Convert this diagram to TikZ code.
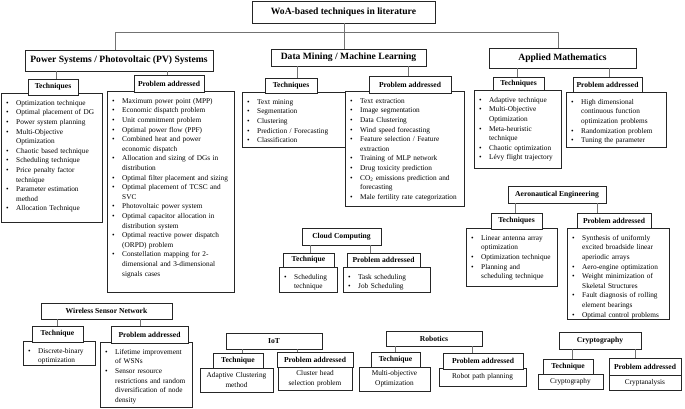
\documentclass[tikz,border=0pt]{standalone}
\usepackage{fontspec}
\setmainfont{Liberation Serif}
\usetikzlibrary{calc}
\newcommand\nohy{\hyphenpenalty=10000\relax\exhyphenpenalty=10000\relax}
\newcommand\itm{\par\noindent\hangindent=10pt\hangafter=1\makebox[10pt][l]{\textbullet}}
\newcommand\myhdr[7]{\node[#1, minimum width={(#5-#3)*1pt}, minimum height={(#6-#4)*1pt}, anchor=north west] (#2) at (#3,#4) {#7};}
\newcommand\mylist[6]{\node[lstbox, minimum width={(#4-#2)*1pt}, minimum height={(#5-#3)*1pt}, anchor=north west] (#1) at (#2,#3) {};
  \node[lsttext, text width={(#4-#2-10)*1pt}, anchor=north west] (#1txt) at (#2,#3+2.5) {\nohy#6\par};}
\newcommand\mycent[6]{\node[lstbox, minimum width={(#4-#2)*1pt}, minimum height={(#5-#3)*1pt}, anchor=north west] (#1) at (#2,#3) {};
  \node[lsttext, text width={(#4-#2-6)*1pt}, align=center, inner xsep=3pt] (#1txt) at (#1.center) {\nohy#6\par};}
\tikzset{
  boxbase/.style={draw=black!85, line width=0.7pt, fill=white, inner sep=0pt, outer sep=0pt},
  cat/.style={boxbase, font=\bfseries\fontsize{9.6}{11}\selectfont},
  scat/.style={boxbase, font=\bfseries\fontsize{7.6}{9}\selectfont},
  hd/.style={boxbase, font=\bfseries\fontsize{7.6}{9}\selectfont},
  lstbox/.style={boxbase},
  lsttext/.style={inner xsep=5pt, inner ysep=0pt, align=left, font=\fontsize{7.3}{9.6}\selectfont},
  conn/.style={draw=black!55, line width=0.9pt},
}
\begin{document}
\begin{tikzpicture}[x=1pt,y=-1pt]
\useasboundingbox (0,0) rectangle (685,409);
% ---------- lists ----------
\mylist{pvtl}{1}{93}{102}{222}{\itm Optimization technique\itm Optimal placement of DG\itm Power system planning\itm Multi-Objective Optimization\itm Chaotic based technique\itm Scheduling technique\itm Price penalty factor technique\itm Parameter estimation method\itm Allocation Technique}
\mylist{pvpl}{107}{91}{234}{292}{\itm Maximum power point (MPP)\itm Economic dispatch problem\itm Unit commitment problem\itm Optimal power flow (PPF)\itm Combined heat and power economic dispatch\itm Allocation and sizing of DGs in distribution\itm Optimal filter placement and sizing\itm Optimal placement of TCSC and SVC\itm Photovoltaic power system\itm Optimal capacitor allocation in distribution system\itm Optimal reactive power dispatch (ORPD) problem\itm Constellation mapping for 2-\linebreak dimensional and 3-dimensional signals cases}
\mylist{dmtl}{242}{92}{346}{147}{\itm Text mining\itm Segmentation\itm Clustering\itm Prediction / Forecasting\itm Classification}
\mylist{dmpl}{345}{91}{464}{206}{\itm Text extraction\itm Image segmentation\itm Data Clustering\itm Wind speed forecasting\itm Feature selection / Feature extraction\itm Training of MLP network\itm Drug toxicity prediction\itm CO\textsubscript{2} emissions prediction and forecasting\itm Male fertility rate categorization}
\mylist{amtl}{474}{90}{561}{168}{\itm Adaptive technique\itm Multi-Objective Optimization\itm Meta-heuristic technique\itm Chaotic optimization\itm Lévy flight trajectory}
\mylist{ampl}{566}{92}{666}{147}{\itm High dimensional continuous function optimization problems\itm Randomization problem\itm Tuning the parameter}
\mylist{aerotl}{466}{228}{557}{286}{\itm Linear antenna array optimization\itm Optimization technique\itm Planning and scheduling technique}
\mylist{aeropl}{567}{228}{669}{319}{\itm Synthesis of uniformly excited broadside linear aperiodic arrays\itm Aero-engine optimization\itm Weight minimization of Skeletal Structures\itm Fault diagnosis of rolling element bearings\itm Optimal control problems}
\mylist{cctl}{279}{267}{337}{292}{\itm Scheduling technique}
\mylist{ccpl}{343}{267}{430}{292}{\itm Task scheduling\itm Job Scheduling}
\mylist{wsntl}{23}{341}{95}{365}{\itm Discrete-binary optimization}
\mylist{wsnpl}{100}{342}{192}{407}{\itm Lifetime improvement of WSNs\itm Sensor resource restrictions and random diversification of node density}
\mycent{iottl}{200}{368}{273}{392}{Adaptive Clustering\\method}
\mycent{iotpl}{278}{367}{352}{390}{Cluster head selection problem}
\mycent{robtl}{359}{367}{430}{391}{Multi-objective Optimization}
\mycent{robpl}{439}{368}{526}{386}{Robot path planning}
\mycent{crytl}{538}{374}{603}{389}{Cryptography}
\mycent{crypl}{609}{375}{681}{390}{Cryptanalysis}
% ---------- category boxes ----------
\myhdr{cat}{title}{252}{1}{435}{23}{WoA-based techniques in literature}
\myhdr{cat}{pv}{25}{50}{213}{71}{Power Systems / Photovoltaic (PV) Systems}
\myhdr{cat}{dm}{271}{49}{426}{66}{Data Mining / Machine Learning}
\myhdr{cat}{am}{489}{48}{636}{68}{Applied Mathematics}
\myhdr{scat}{aero}{508}{186}{606}{203}{Aeronautical Engineering}
\myhdr{scat}{cc}{302}{228}{381}{245}{Cloud Computing}
\myhdr{scat}{wsn}{41}{303}{172}{319}{Wireless Sensor Network}
\myhdr{scat}{iot}{226}{333}{322}{349}{IoT}
\myhdr{scat}{rob}{386}{331}{482}{346}{Robotics}
\myhdr{scat}{cry}{559}{332}{641}{349}{Cryptography}
% ---------- headers ----------
\myhdr{hd}{pvt}{28}{79}{78}{95}{Techniques}
\myhdr{hd}{pvp}{134}{75}{204}{92}{Problem addressed}
\myhdr{hd}{dmt}{265}{78}{317}{93}{Techniques}
\myhdr{hd}{dmp}{369}{76}{451}{93}{Problem addressed}
\myhdr{hd}{amt}{493}{77}{544}{90}{Techniques}
\myhdr{hd}{amp}{573}{77}{642}{92}{Problem addressed}
\myhdr{hd}{aerot}{491}{213}{542}{229}{Techniques}
\myhdr{hd}{aerop}{577}{213}{651}{228}{Problem addressed}
\myhdr{hd}{cct}{283}{253}{334}{267}{Technique}
\myhdr{hd}{ccp}{347}{253}{420}{267}{Problem addressed}
\myhdr{hd}{wsnt}{32}{326}{83}{342}{Technique}
\myhdr{hd}{wsnp}{111}{326}{188}{343}{Problem addressed}
\myhdr{hd}{iott}{213}{353}{263}{368}{Technique}
\myhdr{hd}{iotp}{277}{352}{353}{367}{Problem addressed}
\myhdr{hd}{robt}{371}{352}{420}{367}{Technique}
\myhdr{hd}{robp}{443}{353}{523}{369}{Problem addressed}
\myhdr{hd}{cryt}{543}{359}{593}{374}{Technique}
\myhdr{hd}{cryp}{609}{358}{681}{375}{Problem addressed}
% ---------- connectors ----------
\coordinate (bus) at (344,32);
\draw[conn] (344,0 |- title.south) -- (344,0 |- dm.north);
\draw[conn] (115,0 |- pv.north) -- (115,0 |- bus) -- (558,0 |- bus) -- (558,0 |- am.north);
\draw[conn] (56,0 |- pv.south) -- (56,0 |- pvt.north);
\draw[conn] (167,0 |- pv.south) -- (167,0 |- pvp.north);
\draw[conn] (297,0 |- dm.south) -- (297,0 |- dmt.north);
\draw[conn] (408,0 |- dm.south) -- (408,0 |- dmp.north);
\draw[conn] (517,0 |- am.south) -- (517,0 |- amt.north);
\draw[conn] (609,0 |- am.south) -- (609,0 |- amp.north);
\draw[conn] (515,0 |- aero.south) -- (515,0 |- aerot.north);
\draw[conn] (597,0 |- aero.south) -- (597,0 |- aerop.north);
\draw[conn] (310,0 |- cc.south) -- (310,0 |- cct.north);
\draw[conn] (370,0 |- cc.south) -- (370,0 |- ccp.north);
\draw[conn] (57,0 |- wsn.south) -- (57,0 |- wsnt.north);
\draw[conn] (140,0 |- wsn.south) -- (140,0 |- wsnp.north);
\draw[conn] (242,0 |- iot.south) -- (242,0 |- iott.north);
\draw[conn] (297,0 |- iot.south) -- (297,0 |- iotp.north);
\draw[conn] (395,0 |- rob.south) -- (395,0 |- robt.north);
\draw[conn] (472,0 |- rob.south) -- (472,0 |- robp.north);
\draw[conn] (572,0 |- cry.south) -- (572,0 |- cryt.north);
\draw[conn] (635,0 |- cry.south) -- (635,0 |- cryp.north);
\end{tikzpicture}
\end{document}
